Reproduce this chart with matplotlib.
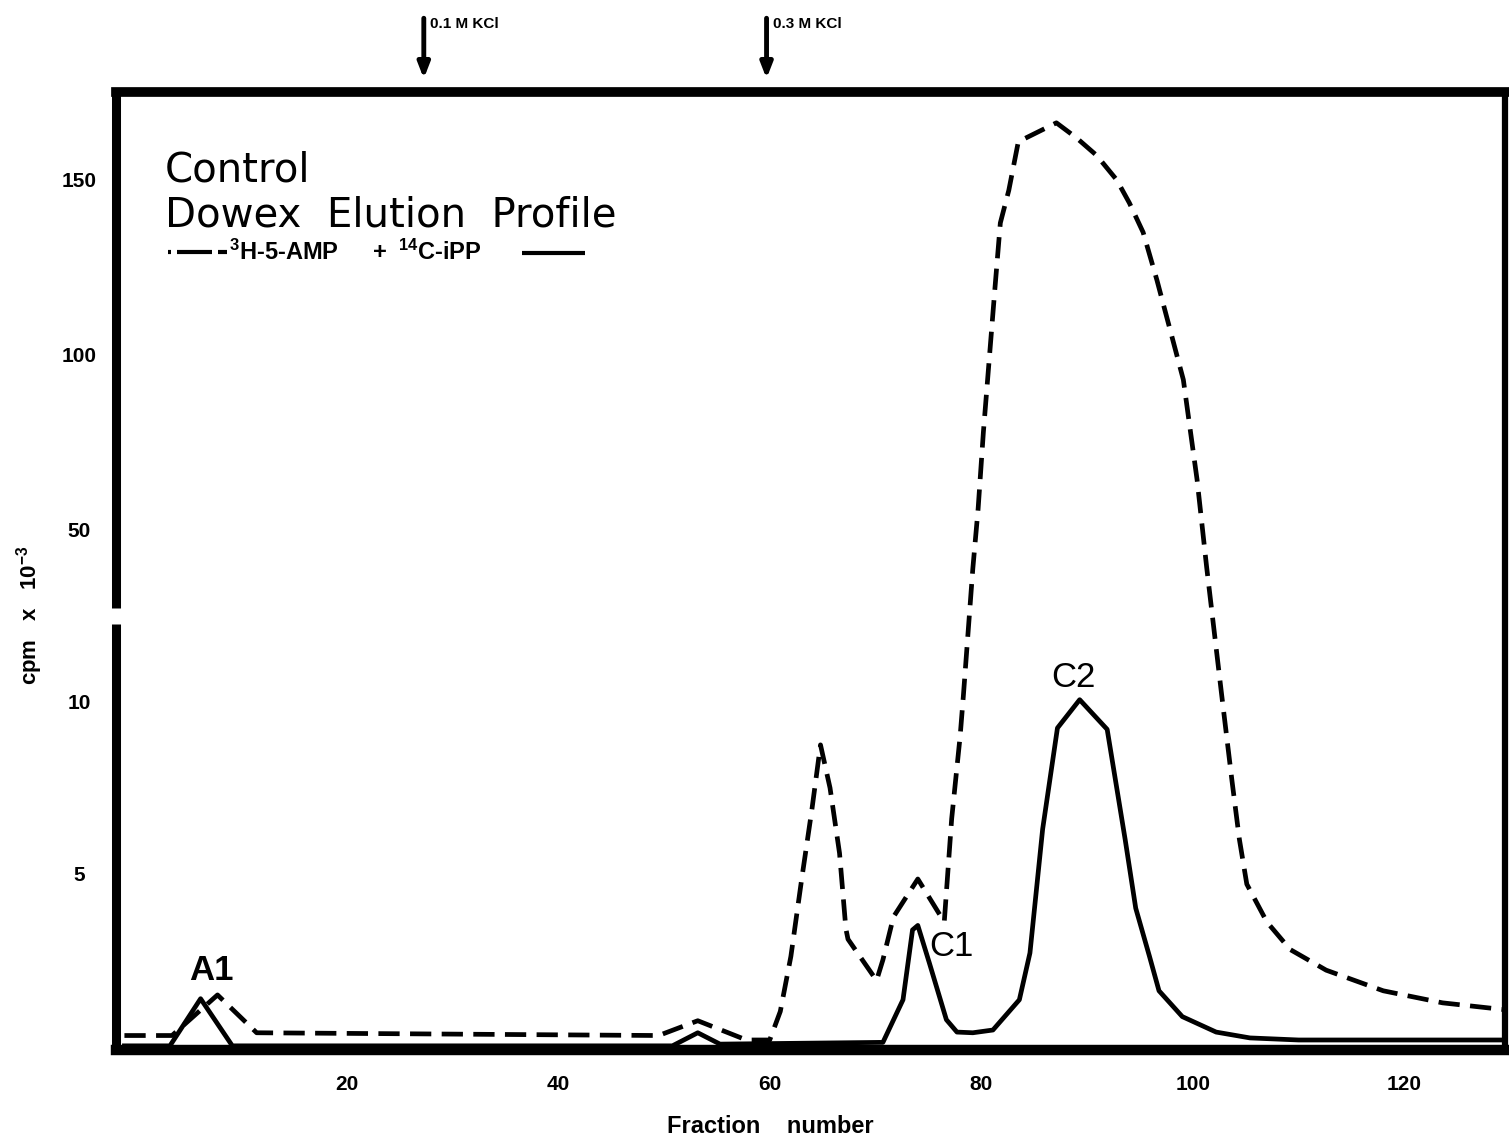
import matplotlib
matplotlib.use("Agg")
import matplotlib.pyplot as plt
import numpy as np

plt.rcParams['font.family'] = ['Liberation Sans', 'DejaVu Sans']
plt.rcParams['mathtext.default'] = 'regular'

# 3H-5-AMP (dashed)
amp_frac = [-1, 3.5, 7.8, 11.5, 49.5, 53.2, 57.8, 60, 61, 62, 63, 64, 64.8,
            65.7, 66.6, 67.2, 67.4, 70.1, 70.7, 71.7, 74.0, 76.5, 77.2, 78.0,
            78.3, 79.2, 79.7, 80.2, 81.3, 81.8, 82.6, 83.5, 87.1, 89.0, 90.9,
            92.8, 94.0, 95.3, 96.6, 99.1, 100.4, 101.3, 102.7, 103.7, 104.4,
            105.1, 107.0, 109.2, 112.6, 118.0, 123.6, 129.5]
amp_cpm = [0.3, 0.3, 1.48, 0.38, 0.3, 0.73, 0.17, 0.17, 1.0, 2.6, 4.8, 6.9, 8.75,
           7.5, 5.6, 3.4, 3.1, 1.9, 2.5, 3.75, 4.85, 3.6, 6.6, 9.0,
           11.2, 41, 56, 78, 119.4, 137.7, 147, 160.9, 166.3, 162, 157,
           150, 143.4, 135, 121.4, 92.9, 64.3, 41.4, 12.1, 7.7, 6.0,
           4.7, 3.6, 2.8, 2.2, 1.6, 1.25, 1.05]

# 14C-iPP (solid)
ipp_frac = [-1, 3.3, 6.2, 9.2, 50.8, 53.2, 55.3, 70.4, 70.7, 72.6, 73.5, 74.0,
            75.1, 76.7, 77.7, 79.2, 81.1, 83.6, 84.6, 85.8, 87.2, 89.3, 91.9,
            93.6, 94.6, 95.9, 96.8, 99.0, 102.2, 105.4, 110, 129.5]
ipp_cpm = [0.0, 0.0, 1.37, 0.0, 0.0, 0.38, 0.05, 0.1, 0.1, 1.34, 3.37, 3.5,
           2.4, 0.76, 0.4, 0.38, 0.46, 1.34, 2.7, 6.3, 9.24, 10.5, 9.2,
           6.0, 4.0, 2.6, 1.6, 0.85, 0.4, 0.23, 0.17, 0.17]

x_ticks = [20, 40, 60, 80, 100, 120]
y_ticks = [5, 10, 50, 100, 150]
y_labels = ['5', '10', '50', '100', '150']

peaks = ['A1', 'C1', 'C2']
peak_pos = [(7.2, 2.2), (77.2, 2.88), (88.75, 15.6)]

kcl_labels = ['0.1 M KCl', '0.3 M KCl']
kcl_frac = [27.3, 59.7]

# broken y axis: 0-10 stretched, 10-50 squeezed, 50-150 linear
yk = [-10, 0, 10, 50, 400]
pk = [-344, 0, 344, 516, 516 + 350 * 3.5]


def fwd(v):
    return np.interp(v, yk, pk)


def inv(p):
    return np.interp(p, pk, yk)


fig = plt.figure(figsize=(15.09, 11.46), dpi=100)
ax = fig.add_axes([0.0772, 0.0838, 0.9201, 0.8359])
ax.set_yscale('function', functions=(fwd, inv))

ax.plot(amp_frac, amp_cpm, color='black', lw=3.4, linestyle=(0, (4.5, 2.2)))
ax.plot(ipp_frac, ipp_cpm, color='black', lw=3.4, solid_joinstyle='round')

ax.set_xlim(-1.75, 129.5)
ax.set_ylim(-0.12, 175.1)

ax.set_xticks(x_ticks)
ax.set_xticklabels([str(t) for t in x_ticks], fontsize=15, fontweight='bold')
ax.set_yticks(y_ticks)
ax.set_yticklabels(y_labels, fontsize=15, fontweight='bold')
ax.yaxis.set_minor_locator(matplotlib.ticker.NullLocator())
ax.xaxis.set_minor_locator(matplotlib.ticker.NullLocator())
ax.tick_params(axis='x', length=0, pad=18)
ax.tick_params(axis='y', length=0, pad=27)
for lab in ax.get_yticklabels():
    lab.set_horizontalalignment('center')

# frame
ax.spines['top'].set_linewidth(7)
ax.spines['bottom'].set_linewidth(7.5)
ax.spines['right'].set_linewidth(4.5)
ax.spines['left'].set_visible(False)
ytr = ax.get_yaxis_transform()
ax.plot([0, 0], [-0.12, 28.1], transform=ytr, color='black', lw=6.5,
        solid_capstyle='butt', clip_on=False)
ax.plot([0, 0], [31.9, 175.1], transform=ytr, color='black', lw=6.5,
        solid_capstyle='butt', clip_on=False)

ax.set_xlabel('Fraction    number', fontsize=17, fontweight='bold')
ax.xaxis.set_label_coords(0.4707, -0.068)
ax.set_ylabel('cpm   x   10$^{-3}$', fontsize=16, fontweight='bold', va='center')
ax.yaxis.set_label_coords(-0.0623, 0.454)

# title block
ax.text(0.0349, 0.907, 'Control', transform=ax.transAxes, fontsize=29,
        va='baseline', family=['DejaVu Sans'])
ax.text(0.0349, 0.860, 'Dowex  Elution  Profile', transform=ax.transAxes,
        fontsize=29, va='baseline', family=['DejaVu Sans'])
ax.plot([0.0374, 0.0393], [0.833, 0.833], transform=ax.transAxes, color='black',
        lw=3, solid_capstyle='butt')
ax.plot([0.0439, 0.0691], [0.833, 0.833], transform=ax.transAxes, color='black',
        lw=3, solid_capstyle='butt')
ax.plot([0.0731, 0.0796], [0.833, 0.833], transform=ax.transAxes, color='black',
        lw=3, solid_capstyle='butt')
ax.text(0.0810, 0.833, '$^{3}$H-5-AMP', transform=ax.transAxes, fontsize=17,
        fontweight='bold', va='center')
ax.text(0.1900, 0.833, '+', transform=ax.transAxes, fontsize=17,
        fontweight='bold', va='center', ha='center')
ax.text(0.2027, 0.833, '$^{14}$C-iPP', transform=ax.transAxes, fontsize=17,
        fontweight='bold', va='center')
ax.plot([0.2920, 0.3375], [0.832, 0.832], transform=ax.transAxes, color='black',
        lw=3, solid_capstyle='butt')

# peak names
for name, (px, py) in zip(peaks, peak_pos):
    ax.text(px, py, name, fontsize=25, ha='center', va='center',
            fontweight='bold' if name == 'A1' else 'normal')

# KCl step arrows
xtr = ax.get_xaxis_transform()
for lab, f in zip(kcl_labels, kcl_frac):
    ax.annotate('', xy=(f, 1.014), xytext=(f, 1.077), xycoords=xtr,
                textcoords=xtr,
                arrowprops=dict(arrowstyle='-|>,head_length=0.9,head_width=0.35',
                                lw=3.5, color='black', shrinkA=0, shrinkB=0))
    ax.text(f + 0.6, 1.071, lab, transform=xtr, fontsize=11, fontweight='bold',
            va='center', ha='left', clip_on=False)

plt.savefig('out.png', dpi=100)
